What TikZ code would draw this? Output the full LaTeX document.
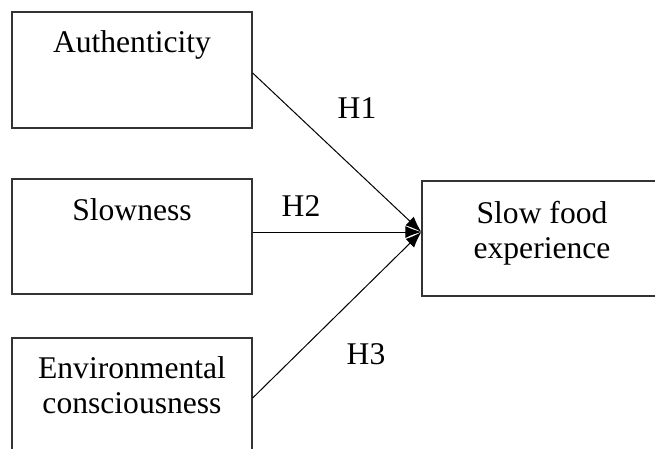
\documentclass[tikz,border=0pt]{standalone}
\usepackage{fontspec}
\setmainfont{Liberation Serif}
\usetikzlibrary{arrows.meta}
\begin{document}
\begin{tikzpicture}[x=1pt,y=-1pt,
  box/.style={draw=black!80, line width=1.3pt, rectangle, inner sep=0pt, fill=none},
  lbl/.style={font=\fontsize{31.6}{35}\selectfont, align=center, inner sep=0pt, anchor=base},
  hyp/.style={font=\fontsize{31.6}{35}\selectfont, inner sep=0pt},
  link/.style={line width=1pt, -{Latex[length=16pt,width=12pt]}}]
\useasboundingbox (0,0) rectangle (655,448);
\clip (0,0) rectangle (655,448);
% boxes
\node[box, minimum width=240pt, minimum height=116pt] (auth) at (132,70) {};
\node[box, minimum width=240pt, minimum height=115pt] (slow) at (132,236.5) {};
\node[box, minimum width=240pt, minimum height=120pt] (env) at (132,398) {};
\node[box, minimum width=240pt, minimum height=115pt] (sfe) at (542,238.5) {};
% texts (multi-line nodes are anchored at the baseline of their last line)
\node[lbl] (authT) at (132,52) {Authenticity};
\node[lbl] (slowT) at (132,220) {Slowness};
\node[lbl] (envT) at (132,413) {Environmental\\consciousness};
\node[lbl] (sfeT) at (542,258) {Slow food\\experience};
% tip
\coordinate (tip) at ([yshift=6.5pt]sfe.west);
% connectors
\draw[link] ([yshift=-3pt]auth.east) -- (tip);
\draw[link] ([yshift=4.5pt]slow.east) -- (tip);
\draw[link] (env.east) -- (tip);
% hypothesis labels
\node[hyp] (h1) at (357,108) {H1};
\node[hyp] (h2) at (301,206) {H2};
\node[hyp] (h3) at (366,354) {H3};
\end{tikzpicture}
\end{document}
